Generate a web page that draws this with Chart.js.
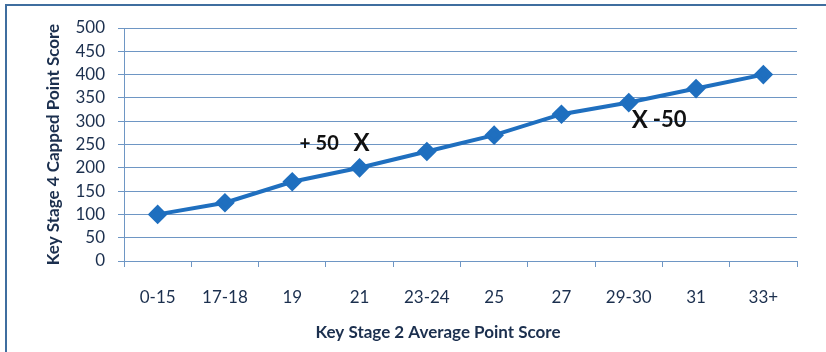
<!DOCTYPE html>
<html>
<head>
<meta charset="utf-8">
<script src="https://cdn.jsdelivr.net/npm/chart.js@4"></script>
<style>
  html, body { margin: 0; padding: 0; background: #fff; overflow: hidden; }
  #wrap { position: relative; width: 826px; height: 352px; }
  #frame { position: absolute; left: 5px; top: 4px; right: -4px; bottom: -4px;
           border-left: 2px solid #3F6E9F; border-top: 2px solid #3F6E9F; pointer-events: none; }
  canvas { position: absolute; left: 0; top: 0; }
</style>
</head>
<body>
<div id="wrap">
  <canvas id="c" width="826" height="352"></canvas>
  <div id="frame"></div>
</div>
<script>
const categories = ["0-15", "17-18", "19", "21", "23-24", "25", "27", "29-30", "31", "33+"];
const ks4Scores = [100, 125, 170, 200, 235, 270, 315, 340, 370, 400];
const yTicks = [0, 50, 100, 150, 200, 250, 300, 350, 400, 450, 500];
const xTitle = "Key Stage 2 Average Point Score";
const yTitle = "Key Stage 4 Capped Point Score";
const annotations = [
  { parts: [["+", 19, 0], ["50", 20, 16], ["X", 24, 54]], category: "21", value: 252, dx: -60 },
  { parts: [["X", 24, 0], ["-50", 22, 21]], category: "29-30", value: 302, dx: 3 }
];

const FONT = "Lato, 'Open Sans', sans-serif";
const NAVY = "#1B2F4E";
const GRID = "#6E96C4";
const LINE = "#1F6FBF";

const annotationPlugin = {
  id: "notes",
  afterDatasetsDraw(chart) {
    const { ctx, chartArea, scales: { x, y } } = chart;
    ctx.save();
    ctx.fillStyle = "#111";
    ctx.textBaseline = "middle";
    ctx.textAlign = "left";
    annotations.forEach(a => {
      const px = x.getPixelForValue(categories.indexOf(a.category)) + a.dx;
      const py = y.getPixelForValue(a.value);
      a.parts.forEach(([t, size, off]) => {
        ctx.font = "bold " + size + "px " + FONT;
        ctx.fillText(t, px + off, py);
      });
    });
    // x-axis title
    ctx.fillStyle = NAVY;
    ctx.textAlign = "center";
    ctx.font = "bold 17px " + FONT;
    ctx.fillText(xTitle, chartArea.left + 314, chartArea.bottom + 72);
    ctx.restore();
  }
};

new Chart(document.getElementById("c"), {
  type: "line",
  data: {
    labels: categories,
    datasets: [{
      data: ks4Scores,
      borderColor: LINE,
      backgroundColor: LINE,
      borderWidth: 4,
      pointStyle: "rectRot",
      pointRadius: 7,
      pointHoverRadius: 7,
      tension: 0
    }]
  },
  options: {
    responsive: false,
    animation: false,
    events: [],
    layout: { padding: { left: 0, top: 28, right: 29, bottom: 0 } },
    plugins: { legend: { display: false }, tooltip: { enabled: false } },
    scales: {
      x: {
        offset: true,
        grid: { offset: true, drawOnChartArea: false, drawTicks: true, tickLength: 6, color: GRID, lineWidth: 1 },
        border: { color: GRID, width: 1 },
        ticks: { color: NAVY, font: { family: FONT, size: 17 }, padding: 20, maxRotation: 0, autoSkip: false },
        afterFit(s) { s.height = 91; }
      },
      y: {
        min: 0, max: 500,
        afterBuildTicks(s) { s.ticks = yTicks.map(v => ({ value: v })); },
        grid: { color: GRID, lineWidth: 1, drawTicks: true, tickLength: 6 },
        border: { color: GRID, width: 1 },
        ticks: { color: NAVY, font: { family: FONT, size: 17 }, padding: 13, autoSkip: false },
        title: { display: true, text: yTitle, color: NAVY, font: { family: FONT, size: 17, weight: "bold" }, padding: { top: 43, bottom: 0 } },
        afterFit(s) { s.width = 124; }
      }
    }
  },
  plugins: [annotationPlugin]
});
</script>
</body>
</html>
